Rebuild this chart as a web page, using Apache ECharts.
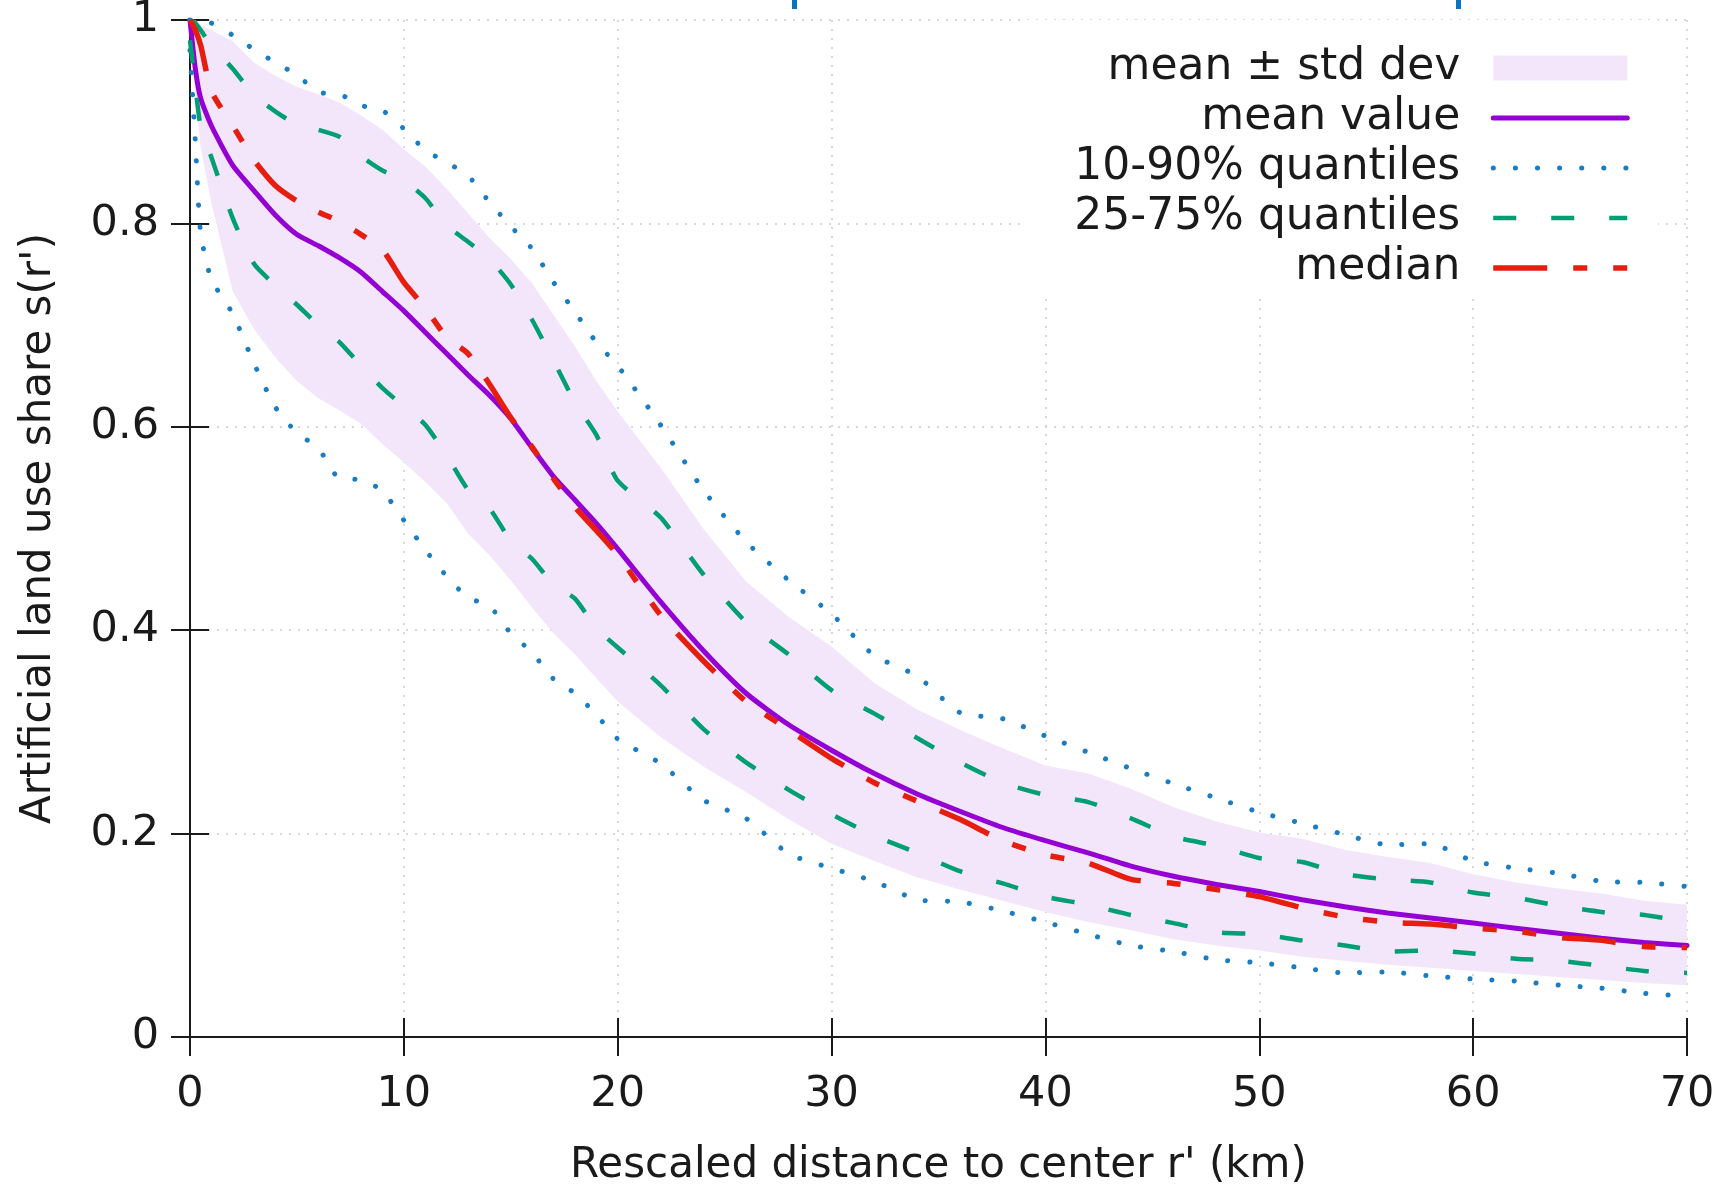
<!DOCTYPE html>
<html>
<head>
<meta charset="utf-8">
<title>Artificial land use share vs rescaled distance</title>
<script src="https://cdn.jsdelivr.net/npm/echarts@6.0.0/dist/echarts.min.js"></script>
<style>
  html, body { margin: 0; padding: 0; background: #fff; }
  #chart { width: 1722px; height: 1185px; }
</style>
</head>
<body>
<div id="chart"></div>
<script>
// rescaled distance r' (km)
const distance = [0, 0.25, 0.5, 1, 2, 3, 4, 5, 6, 7, 8, 9, 10, 11, 12, 13, 14, 15, 16, 17, 18, 19, 20,
    22, 24, 26, 28, 30, 32, 34, 36, 38, 40, 42, 44, 46, 48, 50, 52, 54, 56, 58, 60, 62, 64, 66, 68, 70];

// mean +/- std dev band edges
const bandUpper = [1.0, 1.0, 0.995, 0.99, 0.979, 0.958, 0.945, 0.934, 0.927, 0.919, 0.906, 0.892, 0.873,
    0.856, 0.834, 0.810, 0.786, 0.765, 0.741, 0.710, 0.679, 0.645, 0.615,
    0.560, 0.500, 0.448, 0.413, 0.384, 0.348, 0.322, 0.302, 0.284, 0.267, 0.259, 0.244, 0.226, 0.212,
    0.201, 0.195, 0.184, 0.177, 0.171, 0.160, 0.152, 0.146, 0.141, 0.134, 0.130];
const bandLower = [1.0, 0.925, 0.875, 0.82, 0.733, 0.696, 0.668, 0.645, 0.628, 0.616, 0.603, 0.583, 0.565,
    0.546, 0.525, 0.495, 0.474, 0.449, 0.422, 0.397, 0.376, 0.353, 0.330,
    0.295, 0.266, 0.241, 0.214, 0.190, 0.173, 0.157, 0.145, 0.134, 0.123, 0.113, 0.105, 0.096, 0.090,
    0.085, 0.079, 0.075, 0.071, 0.068, 0.065, 0.062, 0.059, 0.056, 0.053, 0.051];

const meanValue = [1.0, 0.952, 0.923, 0.896, 0.857, 0.832, 0.808, 0.789, 0.778, 0.766, 0.752, 0.733, 0.714,
    0.693, 0.672, 0.651, 0.631, 0.608, 0.579, 0.551, 0.528, 0.505, 0.480,
    0.428, 0.380, 0.338, 0.307, 0.282, 0.259, 0.239, 0.222, 0.206, 0.193, 0.181, 0.168, 0.158, 0.150,
    0.143, 0.135, 0.128, 0.122, 0.117, 0.112, 0.107, 0.102, 0.097, 0.093, 0.090];

const median = [1.0, 0.99, 0.975, 0.93, 0.896, 0.862, 0.837, 0.822, 0.811, 0.802, 0.789, 0.774, 0.742,
    0.717, 0.688, 0.672, 0.642, 0.609, 0.580, 0.549, 0.521, 0.498, 0.474,
    0.415, 0.370, 0.330, 0.302, 0.274, 0.250, 0.232, 0.214, 0.193, 0.179, 0.171, 0.155, 0.151, 0.145,
    0.138, 0.127, 0.118, 0.113, 0.111, 0.107, 0.104, 0.098, 0.095, 0.089, 0.088];

const q10 = [0.97, 0.88, 0.79, 0.745, 0.711, 0.662, 0.619, 0.594, 0.579, 0.549, 0.548, 0.537, 0.508,
    0.479, 0.453, 0.432, 0.424, 0.397, 0.378, 0.352, 0.338, 0.317, 0.293,
    0.269, 0.233, 0.215, 0.180, 0.166, 0.153, 0.135, 0.133, 0.124, 0.113, 0.101, 0.090, 0.084, 0.076,
    0.073, 0.068, 0.063, 0.064, 0.060, 0.057, 0.055, 0.051, 0.048, 0.043, 0.040];
const q90 = [1.0, 1.0, 1.0, 0.997, 0.985, 0.971, 0.958, 0.946, 0.929, 0.927, 0.916, 0.911, 0.893,
    0.872, 0.86, 0.847, 0.821, 0.797, 0.775, 0.742, 0.713, 0.683, 0.660,
    0.602, 0.538, 0.487, 0.449, 0.416, 0.375, 0.355, 0.319, 0.313, 0.296, 0.280, 0.264, 0.249, 0.235,
    0.221, 0.210, 0.199, 0.189, 0.190, 0.173, 0.166, 0.161, 0.153, 0.152, 0.148];

const q25 = [0.98, 0.935, 0.895, 0.865, 0.805, 0.760, 0.739, 0.72, 0.70, 0.683, 0.66, 0.638, 0.62,
    0.602, 0.572, 0.538, 0.52, 0.488, 0.47, 0.445, 0.431, 0.402, 0.383,
    0.346, 0.303, 0.270, 0.243, 0.219, 0.198, 0.181, 0.163, 0.151, 0.138, 0.130, 0.120, 0.112, 0.103,
    0.101, 0.095, 0.090, 0.084, 0.085, 0.082, 0.077, 0.075, 0.070, 0.065, 0.063];
const q75 = [1.0, 0.997, 0.99, 0.975, 0.952, 0.926, 0.91, 0.897, 0.892, 0.885, 0.866, 0.852, 0.842,
    0.825, 0.798, 0.782, 0.765, 0.74, 0.705, 0.665, 0.624, 0.592, 0.547,
    0.511, 0.455, 0.408, 0.376, 0.341, 0.318, 0.294, 0.270, 0.250, 0.238, 0.231, 0.215, 0.197, 0.188,
    0.176, 0.172, 0.160, 0.155, 0.152, 0.142, 0.137, 0.129, 0.123, 0.120, 0.113];

const xTicks = { min: 0, max: 70, interval: 10 };
const yTicks = { min: 0, max: 1, interval: 0.2 };

const FONT = 'DejaVu Sans';
const INK = '#1a1a1a';
const BAND = '#f3e6fa';
const PURPLE = '#9400d3';
const BLUE = '#1a7dc2';
const GREEN = '#009e73';
const RED = '#e51e10';

function pairs(ys) {
    return distance.map(function (x, i) { return [x, ys[i]]; });
}

let chart = echarts.init(document.getElementById('chart'), null, { renderer: 'canvas' });

let axisLine = { show: true, lineStyle: { color: INK, width: 2 } };
let axisTick = { show: true, inside: true, length: 19, lineStyle: { color: INK, width: 2 } };
let gridLine = { show: true, lineStyle: { color: '#cccccc', width: 1.5, type: [2, 7] } };

function lineSeries(name, ys, color, width, dash, cap) {
    return {
        name: name,
        type: 'line',
        data: pairs(ys),
        symbol: 'none',
        smooth: 0.2,
        lineStyle: { color: color, width: width, type: dash, cap: cap || 'butt' },
        itemStyle: { color: color },
        emphasis: { disabled: true }
    };
}

// mean +/- std dev drawn as one polygon: upper edge forward, lower edge back
function renderBand(params, api) {
    if (params.dataIndex !== 0) {
        return null;
    }
    let points = [];
    for (let i = 0; i < distance.length; i++) {
        points.push(api.coord([distance[i], bandUpper[i]]));
    }
    for (let i = distance.length - 1; i >= 0; i--) {
        points.push(api.coord([distance[i], bandLower[i]]));
    }
    return {
        type: 'polygon',
        shape: { points: points },
        style: { fill: BAND }
    };
}

let option = {
    animation: false,
    backgroundColor: '#ffffff',
    textStyle: { fontFamily: FONT, color: INK },
    grid: { left: 190, right: 35, top: 20, bottom: 148, containLabel: false, outerBoundsMode: 'none' },
    xAxis: [
        {
            type: 'value', min: xTicks.min, max: xTicks.max, interval: xTicks.interval,
            position: 'bottom',
            axisLine: axisLine, axisTick: axisTick, splitLine: gridLine,
            axisLabel: { margin: 36, fontSize: 43, color: INK, fontFamily: FONT },
            name: "Rescaled distance to center r' (km)",
            nameLocation: 'middle', nameGap: 108,
            nameTextStyle: { fontSize: 42, color: INK, fontFamily: FONT }
        },
        {
            type: 'value', min: xTicks.min, max: xTicks.max, interval: xTicks.interval,
            position: 'top',
            axisLine: axisLine, axisTick: axisTick,
            axisLabel: { show: false }, splitLine: { show: false }
        }
    ],
    yAxis: [
        {
            type: 'value', min: yTicks.min, max: yTicks.max, interval: yTicks.interval,
            position: 'left',
            axisLine: axisLine, axisTick: axisTick, splitLine: gridLine,
            axisLabel: { margin: 31, fontSize: 43, color: INK, fontFamily: FONT },
            name: "Artificial land use share s(r')",
            nameLocation: 'middle', nameGap: 130, nameRotate: 90,
            nameTextStyle: { fontSize: 42, color: INK, fontFamily: FONT }
        },
        {
            type: 'value', min: yTicks.min, max: yTicks.max, interval: yTicks.interval,
            position: 'right',
            axisLine: axisLine, axisTick: axisTick,
            axisLabel: { show: false }, splitLine: { show: false }
        }
    ],
    legend: {
        orient: 'vertical',
        align: 'right',
        right: 64,
        top: 20,
        padding: [26, 28, 9, 50],
        backgroundColor: '#ffffff',
        itemWidth: 134,
        itemHeight: 25,
        itemGap: 6,
        selectedMode: false,
        textStyle: { fontFamily: FONT, fontSize: 44, color: INK },
        formatter: function (name) { return name + '\u00a0\u00a0'; },
        itemStyle: { opacity: 0 },
        lineStyle: { width: 'inherit' },
        data: [
            { name: 'mean ± std dev', icon: 'rect', itemStyle: { color: BAND, opacity: 1, borderWidth: 0 } },
            'mean value',
            '10-90% quantiles',
            '25-75% quantiles',
            'median'
        ]
    },
    graphic: [
        // blue marks cut at the top edge of the picture
        { type: 'rect', left: 792, top: 0, shape: { width: 5, height: 9 }, style: { fill: '#0a74c4' }, silent: true },
        { type: 'rect', left: 1456, top: 0, shape: { width: 5, height: 9 }, style: { fill: '#0a74c4' }, silent: true }
    ],
    series: [
        {
            name: 'mean ± std dev',
            type: 'custom',
            renderItem: renderBand,
            data: distance.map(function (x, i) { return [x, bandLower[i], bandUpper[i]]; }),
            encode: { x: 0, y: [1, 2] },
            itemStyle: { color: BAND },
            silent: true,
            z: 1
        },
        lineSeries('mean value', meanValue, PURPLE, 5, 'solid', 'round'),
        lineSeries('10-90% quantiles', q10, BLUE, 5, [0.1, 22], 'round'),
        lineSeries('10-90% quantiles', q90, BLUE, 5, [0.1, 22], 'round'),
        lineSeries('25-75% quantiles', q25, GREEN, 4.5, [23, 35]),
        lineSeries('25-75% quantiles', q75, GREEN, 4.5, [23, 35]),
        lineSeries('median', median, RED, 5.5, [54, 26, 14, 26, 14, 26])
    ]
};

chart.setOption(option);
</script>
</body>
</html>
